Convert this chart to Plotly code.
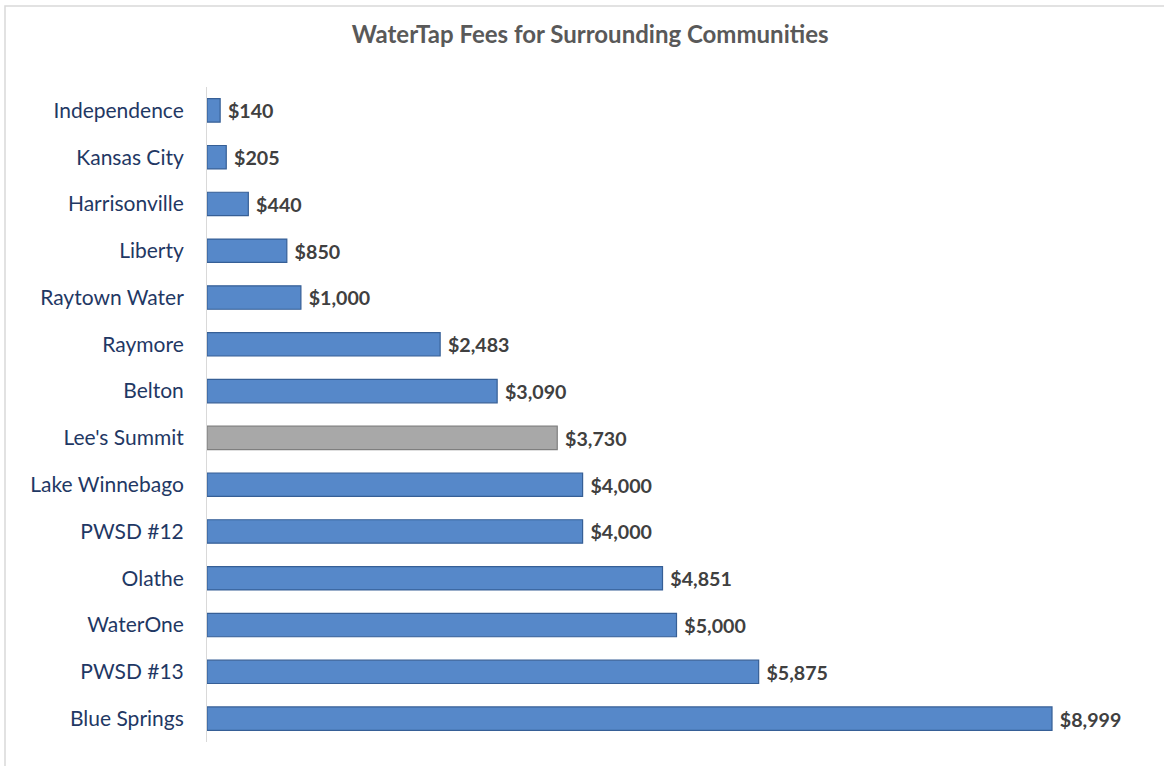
import plotly.graph_objects as go

communities = ["Independence", "Kansas City", "Harrisonville", "Liberty", "Raytown Water",
               "Raymore", "Belton", "Lee's Summit", "Lake Winnebago", "PWSD #12",
               "Olathe", "WaterOne", "PWSD #13", "Blue Springs"]
fees = [140, 205, 440, 850, 1000, 2483, 3090, 3730, 4000, 4000, 4851, 5000, 5875, 8999]
highlight = "Lee's Summit"

colors = ["#A8A8A8" if c == highlight else "#5688C9" for c in communities]
lines = ["#7F7F7F" if c == highlight else "#365F96" for c in communities]
labels = ["\u00a0$" + format(v, ",") for v in fees]

fig = go.Figure()
fig.add_trace(go.Bar(
    y=communities, x=fees, orientation="h",
    marker=dict(color=colors, line=dict(color=lines, width=1.2)),
    text=labels, textposition="outside", cliponaxis=False,
    textfont=dict(family="Lato, Open Sans, sans-serif", size=21, color="#404040", weight="bold"),
    hoverinfo="skip",
))

fig.update_layout(
    width=1164, height=766,
    margin=dict(l=207, r=18, t=87, b=24),
    paper_bgcolor="white", plot_bgcolor="white",
    bargap=0.5,
    showlegend=False,
    title=dict(text="<b>WaterTap Fees for Surrounding Communities</b>",
               x=0.507, xanchor="center", y=0.955, yanchor="middle",
               font=dict(family="Lato, Open Sans, sans-serif", size=24, color="#595959")),
    xaxis=dict(range=[0, 10000], visible=False, showgrid=False, zeroline=False),
    yaxis=dict(autorange="reversed", showline=True, linecolor="#D9D9D9", linewidth=1,
               ticks="", showgrid=False, ticklabelstandoff=18,
               tickfont=dict(family="Lato, Open Sans, sans-serif", size=21, color="#1F3864")),
    shapes=[dict(type="rect", xref="paper", yref="paper",
                 x0=(5 - 207) / 939, x1=(1180 - 207) / 939,
                 y0=-0.1, y1=(766 - 24 - 6) / 655,
                 line=dict(color="#D9D9D9", width=1.5), fillcolor="rgba(0,0,0,0)", layer="below")],
)

fig.write_html("out.html")
